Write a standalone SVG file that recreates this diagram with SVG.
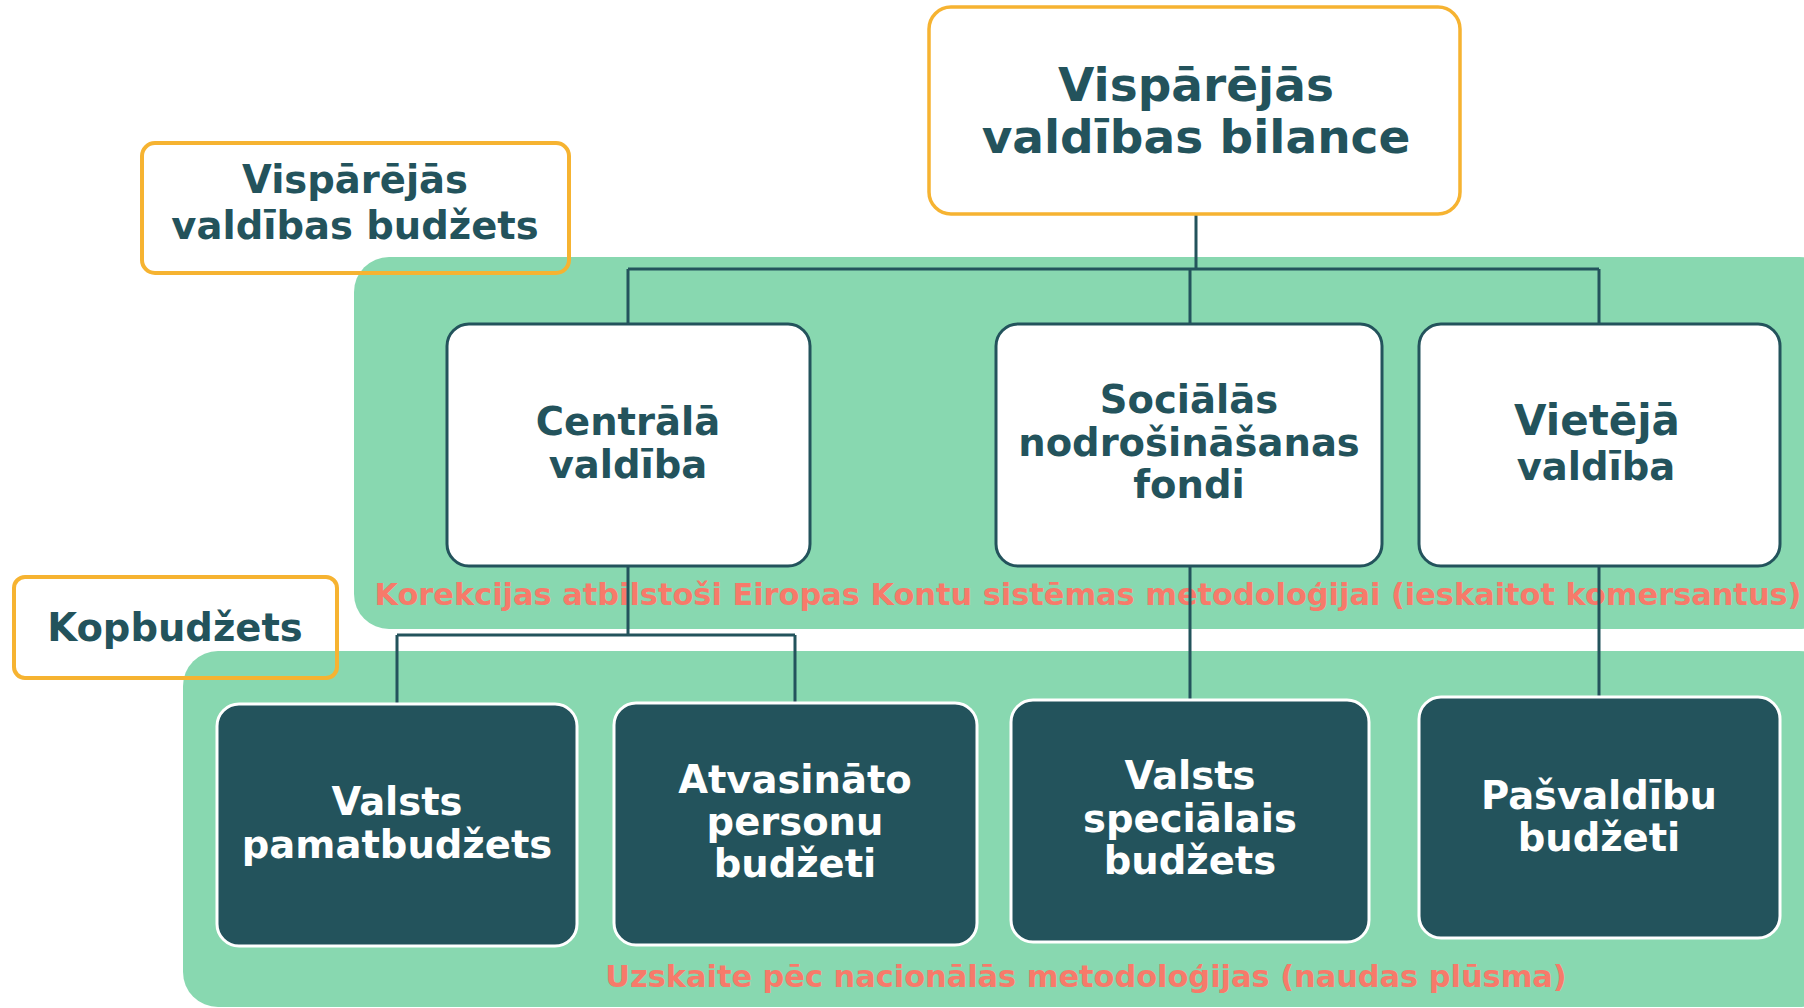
<svg xmlns="http://www.w3.org/2000/svg" width="1804" height="1008" viewBox="0 0 1804 1008">
<style>
text{font-family:"DejaVu Sans","Liberation Sans",sans-serif;font-weight:bold;text-anchor:middle}
.panel{fill:#88D8B0}
.note{fill:#F77A6A;font-size:30.4px}
.wbox{fill:#ffffff;stroke:#23535C;stroke-width:3}
.dbox{fill:#23535C;stroke:#ffffff;stroke-width:3}
.obox{fill:none;stroke:#F6B331;stroke-width:4}
.tbox{fill:#ffffff;stroke:#F6B331;stroke-width:3.5}
.dt{fill:#23535C;font-size:38.5px}
.lt{fill:#ffffff;font-size:38.5px}
.conn{fill:none;stroke:#23535C;stroke-width:3}
</style>
<g id="panels">
<rect class="panel" x="354" y="257" width="1480" height="372" rx="35"/>
<rect class="panel" x="183" y="651" width="1651" height="356" rx="35"/>
<text class="note" x="1088" y="605">Korekcijas atbilstoši Eiropas Kontu sistēmas metodoloģijai (ieskaitot komersantus)</text>
<text class="note" x="1086" y="987">Uzskaite pēc nacionālās metodoloģijas (naudas plūsma)</text>
</g>
<g id="connectors">
<path class="conn" d="M1196 214V269M628 269H1599M628 269V324M1190 269V324M1599 269V324"/>
<path class="conn" d="M628 566V635M397 635H795M397 635V704M795 635V703"/>
<path class="conn" d="M1190 566V700M1599 566V697"/>
</g>
<g id="n-bilance">
<rect class="tbox" x="929" y="7" width="531" height="207" rx="22"/>
<text class="dt" style="font-size:47px" x="1196" y="101">Vispārējās</text>
<text class="dt" style="font-size:47px" x="1196" y="153">valdības bilance</text>
</g>
<g id="n-centrala">
<rect class="wbox" x="447" y="324" width="363" height="242" rx="22"/>
<text class="dt" x="628" y="435">Centrālā</text>
<text class="dt" x="628" y="478">valdība</text>
</g>
<g id="n-sociala">
<rect class="wbox" x="996" y="324" width="386" height="242" rx="22"/>
<text class="dt" x="1189" y="413">Sociālās</text>
<text class="dt" x="1189" y="456">nodrošināšanas</text>
<text class="dt" x="1189" y="498">fondi</text>
</g>
<g id="n-vieteja">
<rect class="wbox" x="1419" y="324" width="361" height="242" rx="22"/>
<text class="dt" style="font-size:42px" x="1597" y="435">Vietējā</text>
<text class="dt" x="1596" y="480">valdība</text>
</g>
<g id="n-pamat">
<rect class="dbox" x="217" y="704" width="360" height="242" rx="22"/>
<text class="lt" x="397" y="815">Valsts</text>
<text class="lt" x="397" y="858">pamatbudžets</text>
</g>
<g id="n-atvas">
<rect class="dbox" x="614" y="703" width="363" height="242" rx="22"/>
<text class="lt" x="795" y="793">Atvasināto</text>
<text class="lt" x="795" y="835">personu</text>
<text class="lt" x="795" y="877">budžeti</text>
</g>
<g id="n-special">
<rect class="dbox" x="1011" y="700" width="358" height="242" rx="22"/>
<text class="lt" x="1190" y="789">Valsts</text>
<text class="lt" x="1190" y="832">speciālais</text>
<text class="lt" x="1190" y="874">budžets</text>
</g>
<g id="n-pasv">
<rect class="dbox" x="1419" y="697" width="361" height="241" rx="22"/>
<text class="lt" x="1599" y="809">Pašvaldību</text>
<text class="lt" x="1599" y="851">budžeti</text>
</g>
<g id="n-vvbudzets">
<rect class="obox" x="142" y="143" width="427" height="130" rx="13"/>
<text class="dt" x="355" y="193">Vispārējās</text>
<text class="dt" x="355" y="239">valdības budžets</text>
</g>
<g id="n-kopbudzets">
<rect class="obox" x="14" y="577" width="323" height="101" rx="11"/>
<text class="dt" x="175" y="641">Kopbudžets</text>
</g>
</svg>
